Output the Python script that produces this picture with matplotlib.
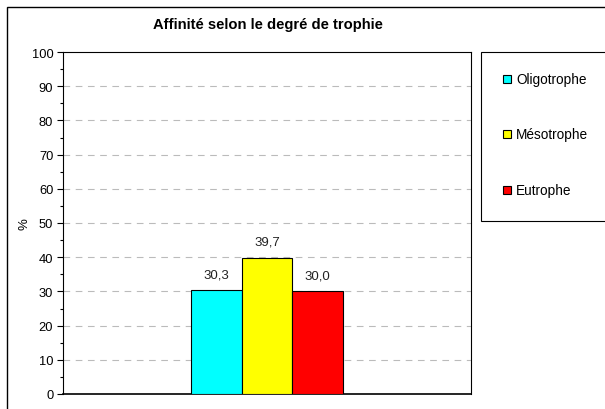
import matplotlib
matplotlib.use("Agg")
import matplotlib.pyplot as plt
from matplotlib.patches import Rectangle
from matplotlib.ticker import MultipleLocator

plt.rcParams['font.family'] = ['Liberation Sans', 'DejaVu Sans']

# data
categories = ['Oligotrophe', 'Mésotrophe', 'Eutrophe']
values = [30.3, 39.7, 30.0]
colors = ['#00FFFF', '#FFFF00', '#FF0000']
title = 'Affinité selon le degré de trophie'

W, H = 605, 410
fig = plt.figure(figsize=(W / 100, H / 100), dpi=100)

# outer chart border (right/bottom run off the picture)
fig.patches.append(Rectangle((7 / W, -0.05), 1.1, 1 - 8 / H + 0.05,
                             transform=fig.transFigure, fill=False,
                             edgecolor='black', linewidth=1.0))

ax = fig.add_axes([63 / W, 1 - 395 / H, (471 - 63) / W, (395 - 53) / H])
x = list(range(len(values)))
ax.bar(x, values, width=1.0, color=colors, edgecolor='black', linewidth=0.8, zorder=3)
for xi, v in zip(x, values):
    ax.text(xi, v + 3, f'{v:.1f}'.replace('.', ','), ha='center', va='bottom',
            fontsize=9.5, color='#222222')

ax.set_xlim(-3.025, 5.025)
ax.set_ylim(0, 100)
ax.set_xticks([])
ax.yaxis.set_major_locator(MultipleLocator(10))
ax.yaxis.set_minor_locator(MultipleLocator(5))
ax.tick_params(axis='y', which='major', direction='out', length=4, width=0.8, labelsize=9.3, pad=3)
ax.tick_params(axis='y', which='minor', direction='out', length=2, width=0.8)
for yv in range(10, 100, 10):
    ax.axhline(yv, color='#BBBBBB', linestyle=(0, (6, 5)), linewidth=0.8, zorder=1)
for s in ax.spines.values():
    s.set_linewidth(0.8)
ax.spines['bottom'].set_linewidth(1.2)
ax.set_ylabel('%', fontsize=9.5, labelpad=0)
ax.yaxis.set_label_coords(-(63 - 30) / (471 - 63), 0.5)

fig.text(268 / W, 1 - 25 / H, title, ha='center', va='center',
         fontsize=10.6, fontweight='bold')

# legend box
fig.patches.append(Rectangle((481 / W, 1 - 222 / H), 0.3, (222 - 53) / H,
                             transform=fig.transFigure, fill=True, facecolor='white',
                             edgecolor='black', linewidth=0.8))
leg_y = [80, 135, 191]
for lab, c, ly in zip(categories, colors, leg_y):
    fig.patches.append(Rectangle((503 / W, 1 - (ly + 4) / H), 8 / W, 8 / H,
                                 transform=fig.transFigure, facecolor=c,
                                 edgecolor='black', linewidth=0.8))
    fig.text(516 / W, 1 - ly / H, lab, ha='left', va='center', fontsize=9.8)

fig.savefig('out.png', dpi=100)
